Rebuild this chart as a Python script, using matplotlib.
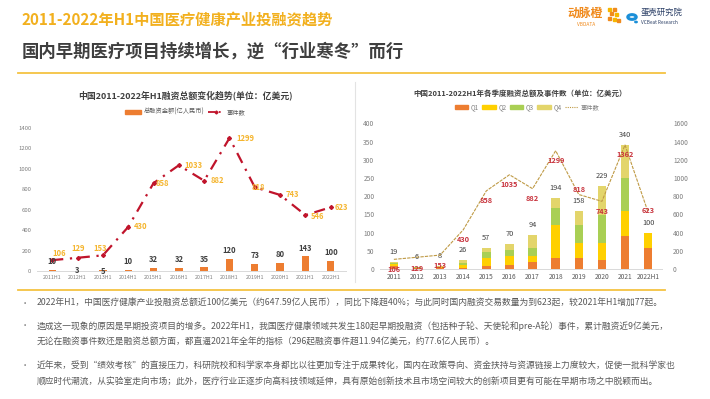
import numpy as np
import matplotlib
matplotlib.use("Agg")
import matplotlib.pyplot as plt
from matplotlib.patches import Patch, Circle
from matplotlib.lines import Line2D

plt.rcParams['font.family'] = ['Noto Sans CJK SC', 'DejaVu Sans']

# ---- data ----
h1_labels = ['2011H1', '2012H1', '2013H1', '2014H1', '2015H1', '2016H1',
             '2017H1', '2018H1', '2019H1', '2020H1', '2021H1', '2022H1']
h1_amount = [10, 3, 5, 10, 32, 32, 35, 120, 73, 80, 143, 100]
h1_events = [106, 129, 153, 430, 858, 1033, 882, 1299, 818, 743, 546, 623]

year_labels = ['2011', '2012', '2013', '2014', '2015', '2016',
               '2017', '2018', '2019', '2020', '2021', '2022H1']
q1 = [8, 2, 2, 4, 7, 10, 19, 30, 29, 25, 91, 58]
q2 = [5, 2, 3, 6, 23, 25, 16, 90, 42, 46, 67, 42]
q3 = [3, 1, 1, 7, 16, 18, 23, 47, 50, 78, 91, 0]
q4 = [3, 1, 2, 9, 11, 17, 36, 27, 37, 80, 91, 0]
year_total = [19, 6, 8, 26, 57, 70, 94, 194, 158, 229, 340, 100]
year_events = [106, 129, 153, 430, 858, 1035, 882, 1299, 818, 743, 1362, 623]

title = '2011-2022年H1中国医疗健康产业投融资趋势'
subtitle = '国内早期医疗项目持续增长，逆“行业寒冬”而行'
bullets = [
    ['2022年H1，中国医疗健康产业投融资总额近100亿美元（约647.59亿人民币），同比下降超40%；与此同时国内融资交易数量为到623起，较2021年H1增加77起。'],
    ['造成这一现象的原因是早期投资项目的增多。2022年H1，我国医疗健康领域共发生180起早期投融资（包括种子轮、天使轮和pre-A轮）事件，累计融资近9亿美元，',
     '无论在融资事件数还是融资总额方面，都直逼2021年全年的指标（296起融资事件超11.94亿美元，约77.6亿人民币）。'],
    ['近年来，受到“绩效考核”的直接压力，科研院校和科学家本身都比以往更加专注于成果转化，国内在政策导向、资金扶持与资源链接上力度较大，促使一批科学家也',
     '顺应时代潮流，从实验室走向市场；此外，医疗行业正逐步向高科技领域延伸，具有原始创新技术且市场空间较大的创新项目更有可能在早期市场之中脱颖而出。'],
]

W, H = 710, 399
fig = plt.figure(figsize=(W / 100, H / 100), dpi=100)


def fx(px):
    return px / W


def fy(py):
    return 1 - py / H


ORANGE = '#ED7D31'
GOLD = '#F2B01E'
GRAY_T = '#7F7F7F'

# ---- header ----
fig.text(fx(22), fy(20), title, fontsize=11, fontweight='bold', color=GOLD, va='center')
fig.text(fx(22), fy(52), subtitle, fontsize=12.5, fontweight='bold', color='#3F3F3F', va='center')
fig.add_artist(Line2D([fx(18), fx(665)], [fy(73), fy(73)], color='#F5C342', lw=1.3))
fig.add_artist(Line2D([fx(18), fx(665)], [fy(290), fy(290)], color='#F5C342', lw=1.3))
fig.add_artist(Line2D([fx(355), fx(355)], [fy(82), fy(282)], color='#E3E3E3', lw=0.8))

# logos
fig.text(fx(585), fy(13), '动脉橙', fontsize=8.5, fontweight='bold', color='#F08A1C', ha='center', va='center')
fig.text(fx(586), fy(24), 'VBDATA', fontsize=3.5, color='#F08A1C', ha='center', va='center')
for dx, dy, c in [(0, 0, '#F5B700'), (5, 0, '#F08A1C'), (2, 4, '#F08A1C'), (7, 5, '#F5B700'),
                  (0, 9, '#F08A1C'), (5, 10, '#F5B700'), (9, 11, '#F08A1C')]:
    fig.add_artist(plt.Rectangle((fx(608 + dx), fy(11 + dy)), 3 / W, 3 / H, color=c))
fig.add_artist(Circle((fx(632), fy(17)), 4.2 / W, transform=fig.transFigure,
                      fill=False, ec='#1B8FD8', lw=2.2))
fig.add_artist(Circle((fx(636), fy(22)), 1.2 / W, transform=fig.transFigure, color='#1B8FD8'))
fig.text(fx(641), fy(12), '蛋壳研究院', fontsize=6, color='#2B3F66', va='center')
fig.text(fx(641), fy(22), 'VCBeat Research', fontsize=3.4, color='#2B3F66', va='center')

# ---- left chart ----
ax1 = fig.add_axes([fx(37), fy(271), fx(346) - fx(37), fy(127.7) - fy(271)])
x = np.arange(len(h1_labels))
ax1.bar(x, h1_amount, width=0.29, color=ORANGE)
ax1.plot(x, h1_events, color='#C0142B', lw=1.6, linestyle=(0, (5, 3, 1, 3)),
         marker='D', markersize=2)
ax1.set_xlim(-0.6, len(x) - 0.4)
ax1.set_ylim(0, 1400)
ax1.set_yticks(range(0, 1401, 200))
ax1.set_xticks(x)
ax1.set_xticklabels(h1_labels)
ax1.tick_params(axis='x', labelsize=3.8, colors=GRAY_T, length=0, pad=3)
ax1.tick_params(axis='y', labelsize=4.3, colors=GRAY_T, length=0, pad=4)
for s in ['top', 'right', 'left']:
    ax1.spines[s].set_visible(False)
ax1.spines['bottom'].set_color('#D9D9D9')
ax1.spines['bottom'].set_linewidth(0.7)

bar_off = [8, 0, -1, 8, 8, 8, 8, 8, 8, 8, 8, 8]
for i, v in enumerate(h1_amount):
    ax1.annotate(str(v), (i, v), xytext=(0, bar_off[i] * 0.72), textcoords='offset points',
                 ha='center', va='center', fontsize=5.5, fontweight='bold', color='#404040')
ev_off = [(7, 7), (1, 9), (-3, 7), (12, 0), (9, 0), (15, 0), (13, 0), (16, 0),
          (4, 0), (12, 0), (12, -1), (11, 0)]
for i, v in enumerate(h1_events):
    dx, dy = ev_off[i]
    ax1.annotate(str(v), (i, v), xytext=(dx * 0.72, dy * 0.72), textcoords='offset points',
                 ha='center', va='center', fontsize=5.5, fontweight='bold', color='#F5B52E')

fig.text(fx(185), fy(95), '中国2011-2022年H1融资总额变化趋势(单位：亿美元)', fontsize=6.4,
         fontweight='bold', color='#404040', ha='center', va='center')
h_left = [Patch(color=ORANGE),
          Line2D([], [], color='#C0142B', lw=1.3, linestyle=(0, (4, 2, 1, 2)), marker='D', markersize=1.5)]
fig.legend(h_left, ['总融资金额(亿人民币)', '事件数'], loc='center', bbox_to_anchor=(fx(185), fy(112)),
           ncol=2, frameon=False, fontsize=4.5, handlelength=2.6, handleheight=0.6,
           columnspacing=0.6, handletextpad=0.4, labelcolor='#595959')

# ---- right chart ----
ax2 = fig.add_axes([fx(380), fy(269), fx(662) - fx(380), fy(123.3) - fy(269)])
xr = np.arange(len(year_labels))
quarters = [q1, q2, q3, q4]
q_colors = [ORANGE, '#FFD000', '#A9CF54', '#E3D56B']
bottom = np.zeros(len(xr))
for q, c in zip(quarters, q_colors):
    ax2.bar(xr, q, bottom=bottom, width=0.37, color=c)
    bottom += np.array(q)
ax2.set_xlim(-0.6, len(xr) - 0.4)
ax2.set_ylim(0, 400)
ax2.set_yticks(range(0, 401, 50))
ax2.set_xticks(xr)
ax2.set_xticklabels(year_labels)
ax2.tick_params(axis='x', labelsize=4.8, colors='#595959', length=0, pad=3)
ax2.tick_params(axis='y', labelsize=4.8, colors=GRAY_T, length=0, pad=4)
for s in ['top', 'right', 'left']:
    ax2.spines[s].set_visible(False)
ax2.spines['bottom'].set_color('#D9D9D9')
ax2.spines['bottom'].set_linewidth(0.7)
for i, v in enumerate(year_total):
    ax2.annotate(str(v), (i, v), xytext=(0, 7.2), textcoords='offset points',
                 ha='center', va='center', fontsize=5.3, color='#404040')

ax3 = ax2.twinx()
ax3.plot(xr, year_events, color='#BF9A45', lw=0.8, linestyle=(0, (3, 1)))
ax3.set_ylim(0, 1600)
ax3.set_yticks(range(0, 1601, 200))
ax3.tick_params(axis='y', labelsize=4.8, colors=GRAY_T, length=0, pad=8)
for s in ['top', 'right', 'left', 'bottom']:
    ax3.spines[s].set_visible(False)
yev_off = [-10, -11, -10, -10, -10, -10, -10, -10, 5, -10, -10, 2]
for i, v in enumerate(year_events):
    ax3.annotate(str(v), (i, v), xytext=(0, yev_off[i] * 0.72), textcoords='offset points',
                 ha='center', va='center', fontsize=5.3, fontweight='bold', color='#C8323C')

fig.text(fx(520), fy(93), '中国2011-2022H1年各季度融资总额及事件数（单位：亿美元）', fontsize=5.4,
         fontweight='bold', color='#404040', ha='center', va='center')
h_right = [Patch(color=c) for c in q_colors] + [Line2D([], [], color='#BF9A45', lw=0.8, linestyle=(0, (1, 1)))]
fig.legend(h_right, ['Q1', 'Q2', 'Q3', 'Q4', '事件数'], loc='center', bbox_to_anchor=(fx(527), fy(107)),
           ncol=5, frameon=False, fontsize=4.5, handlelength=2.2, handleheight=0.6,
           columnspacing=0.5, handletextpad=0.4, labelcolor='#7F7F7F')

# ---- bullet text ----
line_y = [[303], [326, 342], [366, 382]]
for para, ys in zip(bullets, line_y):
    fig.text(fx(25), fy(ys[0]), '•', fontsize=6, color='#7F7F7F', va='center', ha='center')
    for t, yy in zip(para, ys):
        fig.text(fx(37), fy(yy), t, fontsize=6.3, color='#595959', va='center')

fig.savefig('out.png', dpi=100)
